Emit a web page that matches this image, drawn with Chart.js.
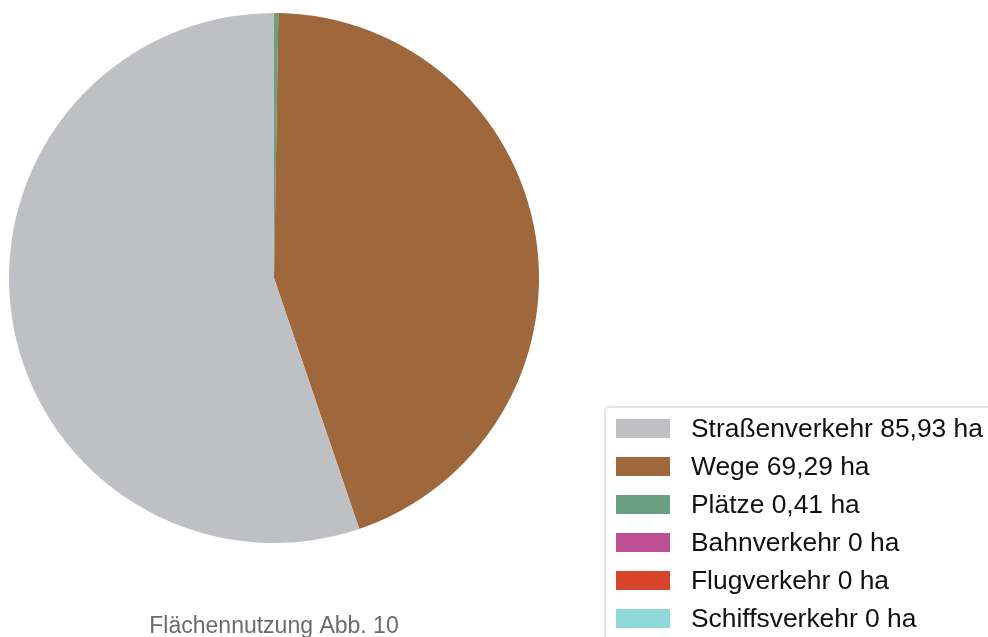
<!DOCTYPE html>
<html>
<head>
<meta charset="utf-8">
<script src="https://cdn.jsdelivr.net/npm/chart.js@4/dist/chart.umd.min.js"></script>
<style>
  html, body { margin: 0; padding: 0; background: #ffffff; overflow: hidden; width: 988px; height: 637px; }
  #wrap { position: relative; width: 988px; height: 637px; }
  #c { position: absolute; left: 0; top: 0; }
  #legend {
    position: absolute; left: 604px; top: 406px; width: 420px; height: 300px;
    border: 2px solid #e4e4e4; border-radius: 6px; box-sizing: border-box;
    padding: 1px 0 0 10px; font-family: "Liberation Sans", Arial, sans-serif;
  }
  .item { display: flex; align-items: center; height: 38px; }
  .sw { width: 54px; height: 19px; flex: none; margin-right: 21px; box-sizing: border-box; }
  .tx { font-size: 26.4px; line-height: 38px; color: #111; white-space: nowrap; }
</style>
</head>
<body>
<div id="wrap">
  <canvas id="c" width="988" height="637"></canvas>
  <div id="legend"></div>
</div>
<script>
const categories = ["Straßenverkehr", "Wege", "Plätze", "Bahnverkehr", "Flugverkehr", "Schiffsverkehr"];
const values = [85.93, 69.29, 0.41, 0, 0, 0];
const unit = "ha";
const colors = ["#bfc0c4", "#9e673c", "#6c9e82", "#bf5093", "#d9452c", "#8fd8d9"];
const chartTitle = "Flächennutzung Abb. 10";

const fmt = v => String(v).replace('.', ',');
const labels = categories.map((c, i) => c + " " + fmt(values[i]) + " " + unit);

// The reference runs counter-clockwise from the top: feed the slices in reverse order
const revLabels = labels.slice().reverse();
const revValues = values.slice().reverse();
const revColors = colors.slice().reverse();

const chart = new Chart(document.getElementById('c'), {
  type: 'pie',
  data: {
    labels: revLabels,
    datasets: [{
      data: revValues,
      backgroundColor: revColors,
      borderWidth: 0
    }]
  },
  options: {
    responsive: false,
    animation: false,
    events: [],
    devicePixelRatio: 1,
    layout: { padding: { left: 9, right: 449, top: 13, bottom: 0 } },
    plugins: {
      legend: { display: false },
      tooltip: { enabled: false },
      title: {
        display: true,
        text: chartTitle,
        position: 'bottom',
        fullSize: false,
        color: '#6b6b6b',
        font: { family: "'Liberation Sans', Arial, sans-serif", size: 23, weight: 'normal', lineHeight: 1 },
        padding: { top: 72, bottom: -1 }
      }
    }
  }
});

// HTML legend, in the original category order
const legendEl = document.getElementById('legend');
categories.forEach((c, i) => {
  const item = document.createElement('div');
  item.className = 'item';
  const sw = document.createElement('span');
  sw.className = 'sw';
  sw.style.background = colors[i];
  const tx = document.createElement('span');
  tx.className = 'tx';
  tx.textContent = labels[i];
  item.appendChild(sw);
  item.appendChild(tx);
  legendEl.appendChild(item);
});
</script>
</body>
</html>
